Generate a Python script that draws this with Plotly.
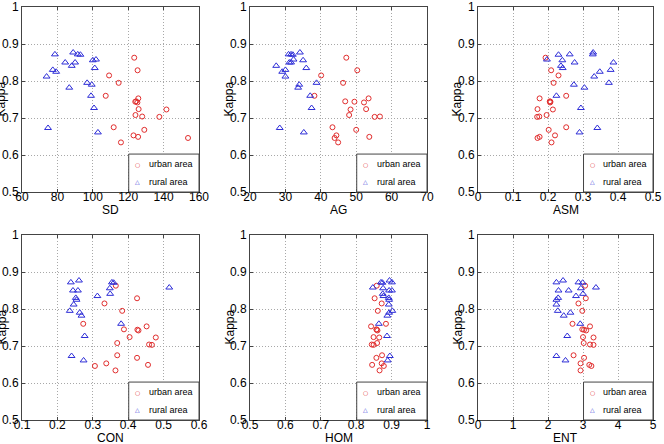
import plotly.graph_objects as go

# ---------------- data ----------------
kappa_urban = [0.863, 0.829, 0.815, 0.795, 0.760, 0.753, 0.745, 0.744, 0.742, 0.724,
               0.723, 0.708, 0.704, 0.703, 0.675, 0.668, 0.653, 0.649, 0.646, 0.634]
kappa_rural = [0.877, 0.872, 0.872, 0.871, 0.858, 0.856, 0.850, 0.850, 0.841, 0.835,
               0.830, 0.825, 0.812, 0.795, 0.790, 0.782, 0.760, 0.727, 0.673, 0.661]

sd_urban = [123.4, 125.3, 109.2, 114.6, 107.3, 125.7, 124.5, 124.0, 125.2, 125.9,
            141.6, 124.1, 127.9, 137.6, 111.8, 129.1, 123.0, 125.6, 153.8, 115.9]
sd_rural = [88.9, 78.6, 91.5, 93.0, 101.8, 100.0, 84.4, 90.0, 88.1, 101.1,
            77.4, 79.3, 73.9, 96.8, 99.4, 86.7, 99.0, 100.7, 74.7, 102.9]

ag_urban = [47.2, 50.3, 40.1, 46.3, 38.2, 53.5, 46.9, 49.5, 52.2, 52.8,
            48.4, 48.0, 56.7, 55.2, 43.3, 50.0, 44.4, 53.7, 43.9, 44.9]
ag_rural = [34.1, 30.9, 31.6, 32.1, 32.3, 35.0, 31.1, 31.6, 27.4, 35.9,
            30.0, 29.1, 30.0, 38.8, 33.9, 33.6, 37.0, 37.4, 28.4, 35.2]

asm_urban = [0.193, 0.209, 0.230, 0.216, 0.252, 0.176, 0.205, 0.207, 0.206, 0.170,
             0.214, 0.196, 0.175, 0.169, 0.252, 0.202, 0.220, 0.176, 0.170, 0.210]
asm_rural = [0.329, 0.328, 0.262, 0.230, 0.197, 0.241, 0.276, 0.387, 0.237, 0.242,
             0.379, 0.348, 0.332, 0.374, 0.274, 0.304, 0.224, 0.294, 0.341, 0.290]

con_urban = [0.365, 0.425, 0.333, 0.383, 0.273, 0.452, 0.388, 0.426, 0.429, 0.404,
             0.478, 0.369, 0.459, 0.467, 0.369, 0.425, 0.338, 0.456, 0.306, 0.364]
con_rural = [0.261, 0.238, 0.354, 0.359, 0.516, 0.348, 0.244, 0.258, 0.349, 0.313,
             0.252, 0.254, 0.246, 0.235, 0.263, 0.268, 0.380, 0.277, 0.240, 0.274]

hom_urban = [0.858, 0.852, 0.872, 0.861, 0.884, 0.842, 0.857, 0.858, 0.860, 0.849,
             0.865, 0.859, 0.844, 0.849, 0.873, 0.857, 0.872, 0.845, 0.878, 0.866]
hom_rural = [0.894, 0.870, 0.901, 0.874, 0.847, 0.876, 0.893, 0.901, 0.875, 0.877,
             0.892, 0.893, 0.892, 0.902, 0.893, 0.888, 0.864, 0.887, 0.895, 0.889]

ent_urban = [3.06, 3.08, 2.87, 2.98, 2.70, 3.20, 2.98, 3.03, 3.09, 3.00,
             3.30, 3.02, 3.20, 3.30, 2.73, 3.03, 2.93, 3.18, 3.24, 2.93]
ent_rural = [2.43, 2.24, 2.87, 2.99, 3.37, 2.94, 2.30, 2.59, 3.00, 2.80,
             2.29, 2.24, 2.24, 2.28, 2.64, 2.45, 2.92, 2.55, 2.24, 2.50]

feature_names = ["SD", "AG", "ASM", "CON", "HOM", "ENT"]
urban_x = [sd_urban, ag_urban, asm_urban, con_urban, hom_urban, ent_urban]
rural_x = [sd_rural, ag_rural, asm_rural, con_rural, hom_rural, ent_rural]

x_ticks = [
    [60, 80, 100, 120, 140, 160],
    [20, 30, 40, 50, 60, 70],
    [0, 0.1, 0.2, 0.3, 0.4, 0.5],
    [0.1, 0.2, 0.3, 0.4, 0.5, 0.6],
    [0.5, 0.6, 0.7, 0.8, 0.9, 1],
    [0, 1, 2, 3, 4, 5],
]
x_ticklabels = [
    ["60", "80", "100", "120", "140", "160"],
    ["20", "30", "40", "50", "60", "70"],
    ["0", "0.1", "0.2", "0.3", "0.4", "0.5"],
    ["0.1", "0.2", "0.3", "0.4", "0.5", "0.6"],
    ["0.5", "0.6", "0.7", "0.8", "0.9", "1"],
    ["0", "1", "2", "3", "4", "5"],
]
y_ticks = [0.5, 0.6, 0.7, 0.8, 0.9, 1]
y_ticklabels = ["0.5", "0.6", "0.7", "0.8", "0.9", "1"]
y_title = "Kappa"
series_names = ["urban area", "rural area"]

# ---------------- styling ----------------
W, H = 664, 444
RED = "rgb(225,45,45)"
BLUE = "rgb(45,45,215)"
AXC = "#444444"
FONT = "Liberation Sans, Arial, sans-serif"

col_domains = [[22 / W, 199 / W], [250 / W, 427 / W], [478 / W, 653 / W]]
row_domains = [[1 - 192 / H, 1 - 7 / H], [1 - 420 / H, 1 - 235 / H]]

fig = go.Figure()
layout = dict(
    width=W, height=H,
    margin=dict(l=0, r=0, t=0, b=0, pad=0, autoexpand=False),
    paper_bgcolor="white", plot_bgcolor="white",
    showlegend=False,
    font=dict(family=FONT, size=12, color="black"),
)
annotations = []
shapes = []

for i, name in enumerate(feature_names):
    k = i + 1
    xa = "x" if k == 1 else f"x{k}"
    ya = "y" if k == 1 else f"y{k}"
    xkey = "xaxis" if k == 1 else f"xaxis{k}"
    ykey = "yaxis" if k == 1 else f"yaxis{k}"
    row, col = divmod(i, 3)

    fig.add_trace(go.Scatter(
        x=urban_x[i], y=kappa_urban, mode="markers", name=series_names[0],
        xaxis=xa, yaxis=ya,
        marker=dict(symbol="circle-open", size=5, color=RED, line=dict(width=1, color=RED)),
    ))
    fig.add_trace(go.Scatter(
        x=rural_x[i], y=kappa_rural, mode="markers", name=series_names[1],
        xaxis=xa, yaxis=ya,
        marker=dict(symbol="triangle-up-open", size=6, color=BLUE, line=dict(width=1, color=BLUE)),
    ))

    common = dict(
        showline=True, linecolor=AXC, linewidth=1, mirror="ticks",
        ticks="inside", ticklen=3, tickcolor=AXC, tickwidth=1,
        showgrid=True, gridcolor="#a8a8a8", gridwidth=1, griddash="1px,2px",
        zeroline=False, tickfont=dict(family=FONT, size=12, color="black"),
        fixedrange=True, automargin=False,
    )
    layout[xkey] = dict(
        common, domain=col_domains[col], anchor=ya,
        range=[x_ticks[i][0], x_ticks[i][-1]],
        tickmode="array", tickvals=x_ticks[i], ticktext=x_ticklabels[i],
        ticklabelstandoff=-6,
    )
    layout[ykey] = dict(
        common, domain=row_domains[row], anchor=xa,
        range=[y_ticks[0], y_ticks[-1]],
        tickmode="array", tickvals=y_ticks, ticktext=y_ticklabels,
    )

    xd = f"{xa} domain"
    yd = f"{ya} domain"
    # axis titles
    annotations.append(dict(
        text=name, xref=xd, yref=yd, x=0.5, y=0, yshift=-18,
        xanchor="center", yanchor="middle", showarrow=False,
        font=dict(family=FONT, size=12, color="black"),
    ))
    annotations.append(dict(
        text=y_title, xref=xd, yref=yd, x=0, y=0.5, xshift=-21,
        xanchor="center", yanchor="middle", textangle=-90, showarrow=False,
        font=dict(family=FONT, size=12, color="black"),
    ))
    # legend box
    shapes.append(dict(
        type="rect", xref=xd, yref=yd, x0=0.603, x1=1, y0=0, y1=0.205,
        line=dict(color=AXC, width=1), fillcolor="white", layer="above",
    ))
    for j, (sym, colr, yy) in enumerate([("○", RED, 0.150), ("△", BLUE, 0.056)]):
        annotations.append(dict(
            text=sym, xref=xd, yref=yd, x=0.655, y=yy,
            xanchor="center", yanchor="middle", showarrow=False,
            font=dict(family="DejaVu Sans", size=6, color=colr),
        ))
        annotations.append(dict(
            text=series_names[j], xref=xd, yref=yd, x=0.705, y=yy,
            xanchor="left", yanchor="middle", showarrow=False,
            font=dict(family=FONT, size=9, color="black"),
        ))

layout["annotations"] = annotations
layout["shapes"] = shapes
fig.update_layout(**layout)
fig.write_html(
    "out.html",
    config={"displayModeBar": False, "staticPlot": False},
    post_script="document.body.style.margin='0';document.body.style.overflow='hidden';",
)
